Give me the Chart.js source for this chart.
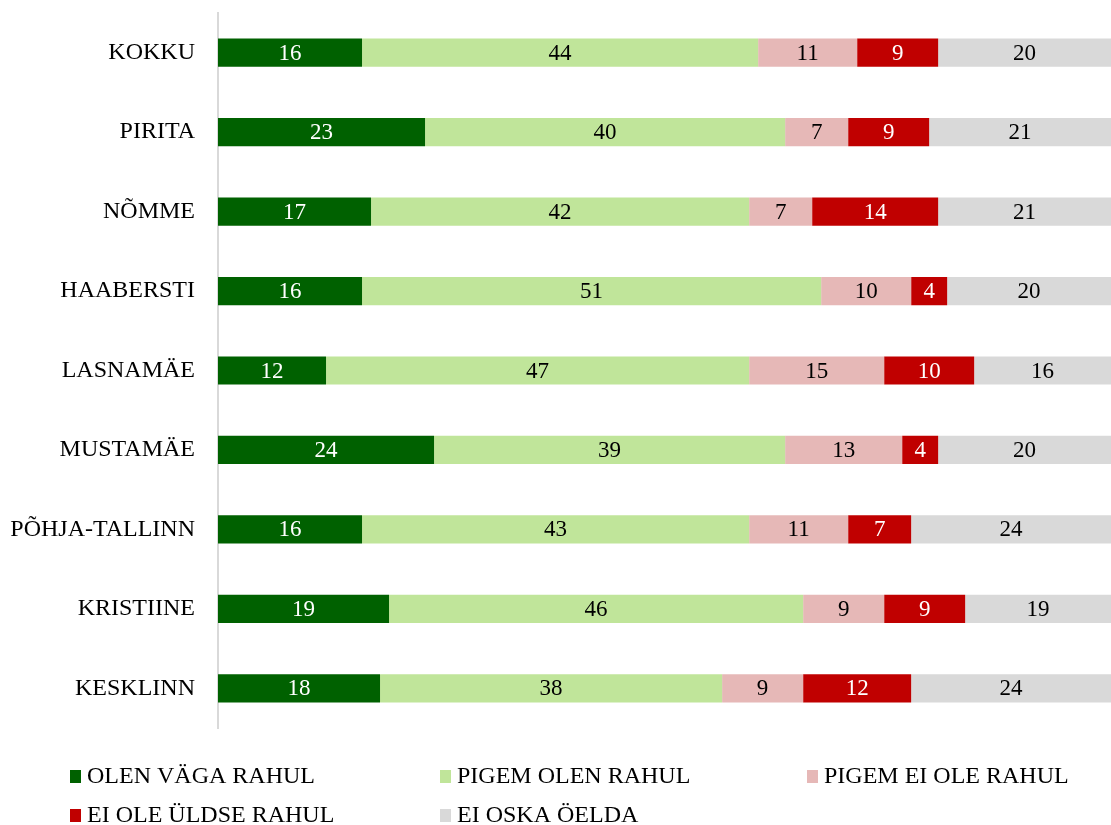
<!DOCTYPE html>
<html>
<head>
<meta charset="utf-8">
<script src="https://cdn.jsdelivr.net/npm/chart.js@4.4.1/dist/chart.umd.min.js"></script>
<style>
    html, body { margin: 0; padding: 0; background: #ffffff; }
    #wrap { width: 1111px; height: 825px; position: relative; }
</style>
</head>
<body>
<div id="wrap"><canvas id="rahuloluChart"></canvas></div>
<script>
// Linnaosad (ülalt alla)
const linnaosad = ['KOKKU', 'PIRITA', 'NÕMME', 'HAABERSTI', 'LASNAMÄE', 'MUSTAMÄE', 'PÕHJA-TALLINN', 'KRISTIINE', 'KESKLINN'];

// Vastuste jaotus, %
const olenVagaRahul   = [16, 23, 17, 16, 12, 24, 16, 19, 18];
const pigemOlenRahul  = [44, 40, 42, 51, 47, 39, 43, 46, 38];
const pigemEiOleRahul = [11, 7, 7, 10, 15, 13, 11, 9, 9];
const eiOleUldseRahul = [9, 9, 14, 4, 10, 4, 7, 9, 12];
const eiOskaOelda     = [20, 21, 21, 20, 16, 20, 24, 19, 24];

const seeriaNimed = ['OLEN VÄGA RAHUL', 'PIGEM OLEN RAHUL', 'PIGEM EI OLE RAHUL', 'EI OLE ÜLDSE RAHUL', 'EI OSKA ÖELDA'];
const seeriaVarvid = ['#006100', '#c0e59a', '#e6b8b7', '#c00000', '#d9d9d9'];
const siltideVarvid = ['#ffffff', '#000000', '#000000', '#ffffff', '#000000'];
const seeriad = [olenVagaRahul, pigemOlenRahul, pigemEiOleRahul, eiOleUldseRahul, eiOskaOelda];

const FONT = '"Liberation Serif", "Times New Roman", serif';

// Väärtused ribade sisse
const ribaSildid = {
    id: 'ribaSildid',
    afterDatasetsDraw(chart) {
        const ctx = chart.ctx;
        ctx.save();
        ctx.font = '23px ' + FONT;
        ctx.textAlign = 'center';
        ctx.textBaseline = 'middle';
        chart.data.datasets.forEach(function(ds, i) {
            const meta = chart.getDatasetMeta(i);
            meta.data.forEach(function(bar, j) {
                const vasak = Math.min(bar.x, bar.base);
                const parem = Math.min(Math.max(bar.x, bar.base), chart.chartArea.right);
                ctx.fillStyle = siltideVarvid[i];
                ctx.fillText(String(ds.data[j]), (vasak + parem) / 2, bar.y + 1);
            });
        });
        ctx.restore();
    }
};

// Legend kahes reas, kolm veergu
const legendJoonis = {
    id: 'legendJoonis',
    afterDraw(chart) {
        const ctx = chart.ctx;
        const veerud = [70, 440, 807];
        const read = [776, 815];
        ctx.save();
        ctx.font = '24px ' + FONT;
        ctx.textAlign = 'left';
        ctx.textBaseline = 'middle';
        seeriaNimed.forEach(function(nimi, i) {
            const x = veerud[i % 3];
            const y = read[Math.floor(i / 3)];
            ctx.fillStyle = seeriaVarvid[i];
            ctx.fillRect(x, y - 6, 11, 13);
            ctx.fillStyle = '#000000';
            ctx.fillText(nimi, x + 17, y + 1);
        });
        ctx.restore();
    }
};

new Chart(document.getElementById('rahuloluChart'), {
    type: 'bar',
    data: {
        labels: linnaosad,
        datasets: seeriad.map(function(andmed, i) {
            return {
                label: seeriaNimed[i],
                data: andmed,
                backgroundColor: seeriaVarvid[i],
                borderWidth: 0,
                barPercentage: 0.355,
                categoryPercentage: 1.0
            };
        })
    },
    options: {
        indexAxis: 'y',
        responsive: true,
        maintainAspectRatio: false,
        animation: false,
        layout: { padding: { top: 13, right: 0, bottom: 97, left: 0 } },
        plugins: {
            legend: { display: false },
            tooltip: { enabled: false },
            title: { display: false }
        },
        scales: {
            x: {
                stacked: true,
                display: false,
                min: 0,
                max: 99.2
            },
            y: {
                stacked: true,
                grid: { display: false },
                border: { display: true, color: '#d9d9d9', width: 2 },
                ticks: {
                    color: '#000000',
                    padding: 15,
                    font: { family: FONT, size: 24 }
                },
                afterFit: function(scale) {
                    scale.width = 218;
                    scale.paddingTop = 0;
                    scale.paddingBottom = 0;
                }
            }
        }
    },
    plugins: [ribaSildid, legendJoonis]
});
</script>
</body>
</html>
